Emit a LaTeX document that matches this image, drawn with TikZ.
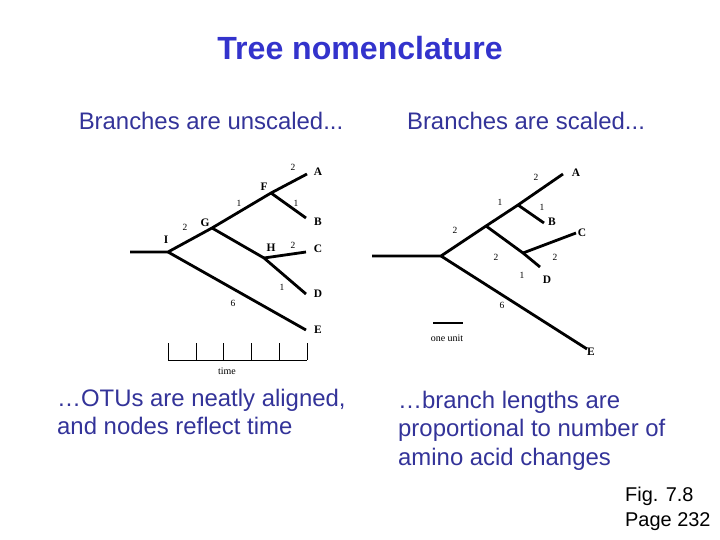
\documentclass[tikz,border=0pt]{standalone}
\usepackage{fontspec}
\setmainfont{Liberation Sans}
\newfontfamily\timesf{Liberation Serif}
\definecolor{titleblue}{RGB}{51,51,204}
\definecolor{textblue}{RGB}{51,51,153}
\begin{document}
\begin{tikzpicture}[x=1bp,y=-1bp,
  branch/.style={line width=2.8bp, line cap=butt, line join=miter},
  scaleline/.style={line width=0.8bp},
  leaf/.style={font=\timesf\bfseries\fontsize{11.5}{12}\selectfont, inner sep=0pt},
  num/.style={font=\timesf\fontsize{9.5}{10}\selectfont, inner sep=0pt},
  small/.style={font=\timesf\fontsize{10}{11}\selectfont, inner sep=0pt},
  head/.style={font=\fontsize{24}{28}\selectfont, text=textblue, inner sep=0pt},
  body/.style={font=\fontsize{24}{29}\selectfont, text=textblue, inner sep=0pt, align=left},
]
\useasboundingbox (0,0) rectangle (720,540);
\fill[white] (0,0) rectangle (720,540);

% titles
\node[font=\bfseries\fontsize{32.2}{36}\selectfont, text=titleblue, inner sep=0pt] (title) at (360,48) {Tree nomenclature};
\node[head] (hl) at (211,121) {Branches are unscaled...};
\node[head] (hr) at (526,121) {Branches are scaled...};

% ---------- left tree ----------
\coordinate (Lr) at (130,252);
\coordinate (LI) at (168,252);
\coordinate (LG) at (212,228);
\coordinate (LF) at (271,193);
\coordinate (LA) at (307,174);
\coordinate (LB) at (306,218);
\coordinate (LH) at (264,258);
\coordinate (LC) at (306,252);
\coordinate (LD) at (306,294);
\coordinate (LE) at (306,330);
\draw[branch] (Lr) -- (LI) -- (LG) -- (LF) -- (LA);
\draw[branch] (LF) -- (LB);
\draw[branch] (LG) -- (LH) -- (LD);
\draw[branch] (LH) -- (LC);
\draw[branch] (LI) -- (LE);

\node[leaf] (tA) at (318,172) {A};
\node[leaf] (tB) at (318,222) {B};
\node[leaf] (tC) at (318,249) {C};
\node[leaf] (tD) at (318,294) {D};
\node[leaf] (tE) at (318,330) {E};
\node[leaf] (tF) at (264,187) {F};
\node[leaf] (tG) at (205,223) {G};
\node[leaf] (tH) at (271,248) {H};
\node[leaf] (tI) at (166,240) {I};
\node[num] (n1) at (293,167) {2};
\node[num] (n2) at (239,203) {1};
\node[num] (n3) at (296,203) {1};
\node[num] (n4) at (185,227) {2};
\node[num] (n5) at (293,245) {2};
\node[num] (n6) at (282,287) {1};
\node[num] (n7) at (233,303) {6};

% time scale
\coordinate (t0) at (168,360);
\coordinate (t5) at (307,360);
\draw[scaleline] (t0) -- (t5);
\foreach \x in {168,196,223,251,279,307}
  \draw[scaleline] (\x,343) -- (\x,360);
\node[small] (time) at (227,371) {time};

% ---------- right tree ----------
\coordinate (Rr) at (372,256);
\coordinate (RR) at (441,256);
\coordinate (RG) at (486,226);
\coordinate (RF) at (518,205);
\coordinate (RA) at (563,174);
\coordinate (RB) at (544,223);
\coordinate (RH) at (523,253);
\coordinate (RC) at (576,233);
\coordinate (RD) at (540,267);
\coordinate (RE) at (587,349);
\draw[branch] (Rr) -- (RR) -- (RG) -- (RF) -- (RA);
\draw[branch] (RF) -- (RB);
\draw[branch] (RG) -- (RH) -- (RD);
\draw[branch] (RH) -- (RC);
\draw[branch] (RR) -- (RE);

\node[leaf] (uA) at (576,173) {A};
\node[leaf] (uB) at (552,222) {B};
\node[leaf] (uC) at (582,233) {C};
\node[leaf] (uD) at (547,280) {D};
\node[leaf] (uE) at (591,352) {E};
\node[num] (m1) at (536,177) {2};
\node[num] (m2) at (500,202) {1};
\node[num] (m3) at (542,207) {1};
\node[num] (m4) at (455,230) {2};
\node[num] (m5) at (496,257) {2};
\node[num] (m6) at (555,257) {2};
\node[num] (m7) at (522,275) {1};
\node[num] (m8) at (502,305) {6};

% one unit bar
\coordinate (u0) at (433,323);
\coordinate (u1) at (463,323);
\draw[line width=1.6bp] (u0) -- (u1);
\node[small] (unit) at (447,338) {one unit};

% bottom texts
\node[body, anchor=north west] (bl) at (57,388.5) {\ldots OTUs are neatly aligned,\\and nodes reflect time};
\node[body, anchor=north west] (br) at (398,390.5) {\ldots branch lengths are\\proportional to number of\\amino acid changes};
\node[font=\fontsize{20}{25}\selectfont, inner sep=0pt, align=left, anchor=north west] (fig) at (625,486.5) {Fig. 7.8\\Page 232};
\end{tikzpicture}
\end{document}
